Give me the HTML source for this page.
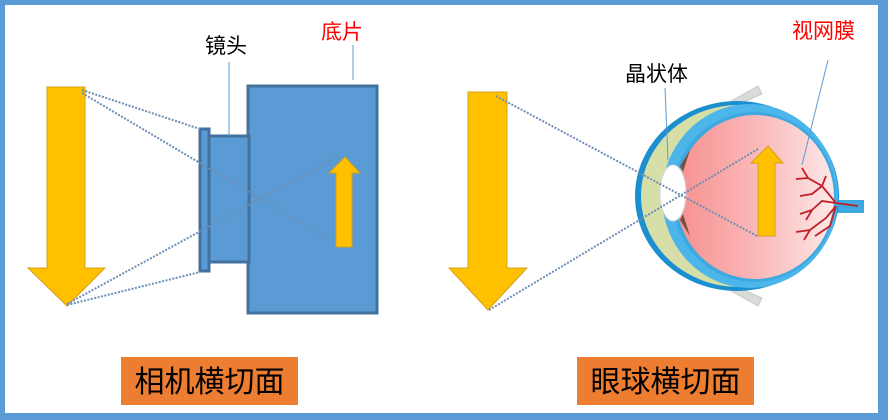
<!DOCTYPE html>
<html><head><meta charset="utf-8"><style>
html,body{margin:0;padding:0;background:#fff}
svg{display:block}
text{font-family:"Liberation Sans","Noto Sans CJK SC",sans-serif}
</style></head><body>
<svg width="888" height="420" viewBox="0 0 888 420" xmlns="http://www.w3.org/2000/svg">
<defs>
<linearGradient id="vit" x1="0" x2="1" y1="0" y2="0">
<stop offset="0" stop-color="#f78f8f"/><stop offset="0.6" stop-color="#fbc0c0"/><stop offset="1" stop-color="#fde8e8"/>
</linearGradient>
</defs>
<rect x="0" y="0" width="888" height="420" fill="#5b9bd5"/>
<rect x="5" y="5" width="873" height="408" fill="#fff"/>

<!-- camera -->
<polygon points="47,87 85,87 85,268 105,268 67,306 28,268 47,268" fill="#ffc000" stroke="#d4a017" stroke-width="1"/>
<rect x="248" y="86" width="129" height="227" fill="#5b9bd5" stroke="#41719c" stroke-width="3"/>
<rect x="209" y="136" width="40" height="126" fill="#5b9bd5" stroke="#41719c" stroke-width="3"/>
<rect x="200" y="129" width="9" height="142" fill="#5b9bd5" stroke="#41719c" stroke-width="3"/>
<polygon points="336,247 336,173 329,173 345,157 360,173 352,173 352,247" fill="#ffc000" stroke="#d4a017" stroke-width="1"/>
<g stroke="#6d8fb5" stroke-width="2" stroke-dasharray="2,1.5" fill="none">
<line x1="82" y1="90" x2="200" y2="129"/>
<line x1="82" y1="93" x2="333" y2="242"/>
<line x1="67" y1="305" x2="200" y2="272"/>
<line x1="67" y1="304" x2="340" y2="155"/>
</g>
<line x1="229" y1="62" x2="229" y2="136" stroke="#5b9bd5" stroke-width="1"/>
<line x1="353" y1="45" x2="353" y2="80" stroke="#5b9bd5" stroke-width="1"/>
<text x="205" y="53" font-size="21" fill="#000">镜头</text>
<text x="321" y="39" font-size="21" fill="#ff0000">底片</text>

<!-- eye -->
<polygon points="468,92 507,92 507,268 527,268 488,310 449,268 468,268" fill="#ffc000" stroke="#d4a017" stroke-width="1"/>
<polygon points="712,112 758,86 762,94 730,108" fill="#d9dbd9" stroke="#c8c8c8"/>
<polygon points="712,280 758,306 762,298 730,284" fill="#d9dbd9" stroke="#c8c8c8"/>
<rect x="836" y="200" width="28" height="13" fill="#3da9e0"/>
<ellipse cx="737" cy="196" rx="102" ry="95" fill="#1c8fd0"/>
<ellipse cx="739" cy="196" rx="98" ry="91" fill="#d6dfa8"/>
<ellipse cx="750" cy="196" rx="88" ry="92" fill="#4cb5ea"/>
<ellipse cx="754" cy="197" rx="82" ry="85" fill="#3da9e0"/>
<ellipse cx="755" cy="197" rx="79" ry="82" fill="url(#vit)"/>
<ellipse cx="673" cy="193" rx="13" ry="28" fill="#fff" stroke="#cfd8dc"/>
<polygon points="680,166 690,150 683,172" fill="#7a5040"/>
<polygon points="680,220 690,236 683,214" fill="#7a5040"/>
<g stroke="#c0202a" stroke-width="1.8" fill="none">
<path d="M858,206 L836,203 L822,186 L808,178 L802,168 M808,178 L796,179 M822,186 L812,194 L800,196 M836,203 L822,201 L812,210 L800,214 M812,210 L806,220 M836,206 L826,218 L810,230 L796,232 M810,230 L804,240 M822,186 L826,176 M836,206 L830,226 L815,236"/>
</g>
<polygon points="758,236 758,163 751,163 768,146 783,163 775,163 775,236" fill="#ffc000" stroke="#d4a017" stroke-width="1"/>
<g stroke="#6d8fb5" stroke-width="2" stroke-dasharray="2,1.5" fill="none">
<line x1="496" y1="96" x2="757" y2="236"/>
<line x1="489" y1="310" x2="758" y2="149"/>
</g>
<line x1="665" y1="88" x2="668" y2="160" stroke="#5b9bd5" stroke-width="1"/>
<line x1="828" y1="60" x2="802" y2="165" stroke="#5b9bd5" stroke-width="1"/>
<text x="625" y="81" font-size="21" fill="#000">晶状体</text>
<text x="792" y="38" font-size="21" fill="#ff0000">视网膜</text>

<!-- labels -->
<rect x="121" y="357" width="177" height="48" fill="#ed7d31"/>
<rect x="577" y="357" width="177" height="48" fill="#ed7d31"/>
<text x="209.5" y="392" font-size="30" fill="#000" text-anchor="middle">相机横切面</text>
<text x="665.5" y="392" font-size="30" fill="#000" text-anchor="middle">眼球横切面</text>
</svg>
</body></html>
